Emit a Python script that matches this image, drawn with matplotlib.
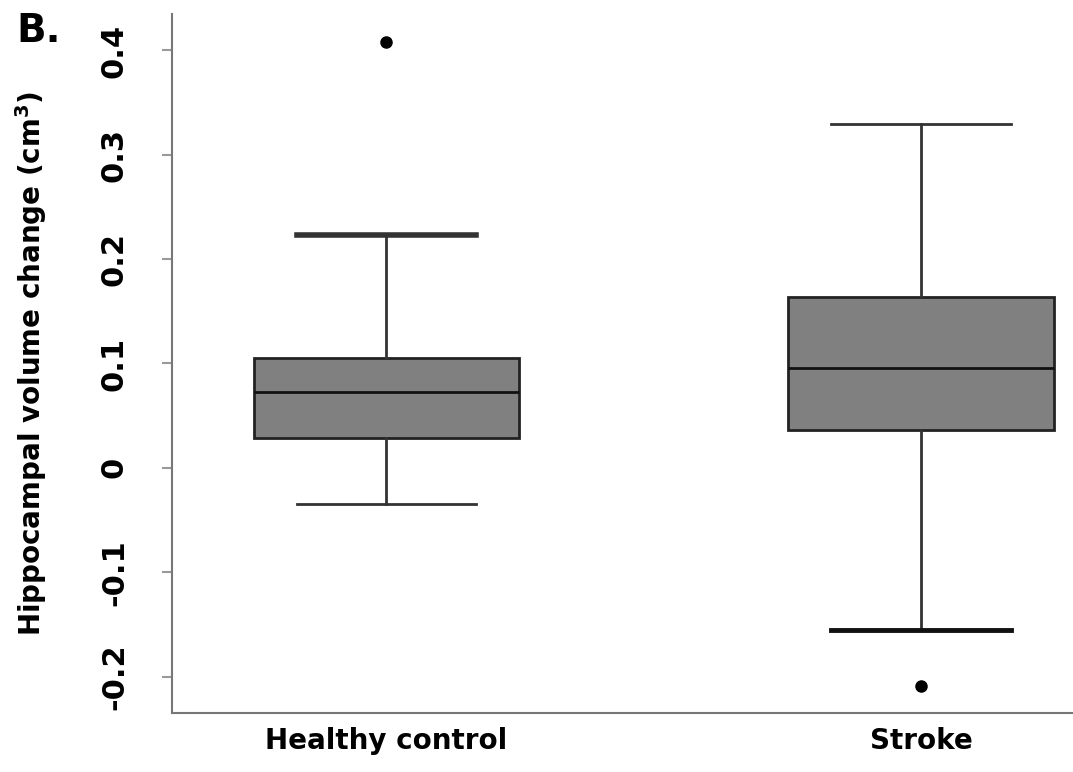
import matplotlib.pyplot as plt

groups = ['Healthy control', 'Stroke']
whislo = [-0.035, -0.155]
q1 = [0.029, 0.036]
med = [0.073, 0.096]
q3 = [0.105, 0.164]
whishi = [0.223, 0.330]
fliers = [[0.408], [-0.209]]

plt.rcParams['font.family'] = ['DejaVu Sans']
plt.rcParams['font.weight'] = 'bold'

fig = plt.figure(figsize=(10.73, 7.72), dpi=100)
ax = fig.add_axes([0.1603, 0.0764, 0.84, 0.9055])

stats = []
for i, g in enumerate(groups):
    stats.append({'label': g, 'whislo': whislo[i], 'q1': q1[i], 'med': med[i],
                  'q3': q3[i], 'whishi': whishi[i], 'fliers': fliers[i]})

bp = ax.bxp(stats, positions=[1, 2], widths=0.496, patch_artist=True,
            showfliers=True,
            boxprops=dict(facecolor='#808080', edgecolor='#222222', linewidth=2),
            medianprops=dict(color='#111111', linewidth=2),
            whiskerprops=dict(color='#333333', linewidth=2),
            capprops=dict(color='#333333', linewidth=2),
            flierprops=dict(marker='o', markerfacecolor='black',
                            markeredgecolor='black', markersize=8))

# caps: [healthy low, healthy high, stroke low, stroke high]
for i, c in enumerate(bp['caps']):
    pos = [1, 2][i // 2]
    c.set_xdata([pos - 0.168, pos + 0.168])
bp['caps'][1].set_linewidth(4)
bp['caps'][2].set_linewidth(3.5)
bp['caps'][2].set_color('#111111')

ax.set_xlim(0.599, 2.285)
ax.set_ylim(-0.235, 0.435)
ax.set_yticks([-0.2, -0.1, 0, 0.1, 0.2, 0.3, 0.4])
ax.set_yticklabels(['-0.2', '-0.1', '0', '0.1', '0.2', '0.3', '0.4'],
                   rotation=90, va='center', fontsize=22, fontweight='bold')
ax.set_xticklabels(groups, fontsize=20, fontweight='bold')
ax.tick_params(axis='y', length=7, width=1.5, color='#999999', pad=24)
ax.tick_params(axis='x', length=0, pad=10)

for s in ['top', 'right']:
    ax.spines[s].set_visible(False)
for s in ['left', 'bottom']:
    ax.spines[s].set_color('#777777')
    ax.spines[s].set_linewidth(1.5)

ax.set_ylabel('Hippocampal volume change (cm$^\\mathregular{3}$)', fontsize=20,
              fontweight='bold')
ax.yaxis.set_label_coords(-0.136, 0.5)
fig.text(0.015, 0.985, 'B.', fontsize=28, fontweight='bold', va='top', ha='left')

fig.savefig('out.png', dpi=100)
